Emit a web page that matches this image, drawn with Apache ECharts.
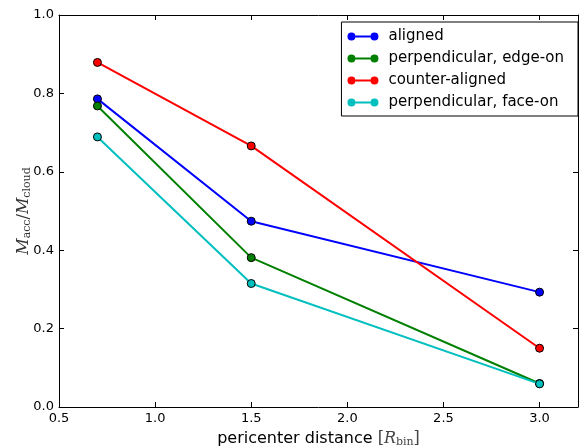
<!DOCTYPE html>
<html>
<head>
<meta charset="utf-8">
<script src="https://cdn.jsdelivr.net/npm/echarts@6/dist/echarts.min.js"></script>
<style>
  html, body { margin: 0; padding: 0; background: #fff; }
  #main { width: 584px; height: 448px; }
</style>
</head>
<body>
<div id="main"></div>
<script>
// pericenter distances (R_bin)
const distances = [0.7, 1.5, 3.0];
const seriesNames = ['aligned', 'perpendicular, edge-on', 'counter-aligned', 'perpendicular, face-on'];
const aligned = [0.786, 0.474, 0.293];
const edgeOn = [0.768, 0.381, 0.060];
const counterAligned = [0.879, 0.666, 0.150];
const faceOn = [0.689, 0.315, 0.059];
const seriesColors = ['#0000ff', '#008000', '#ff0000', '#00bfbf'];
const xTicks = ['0.5', '1.0', '1.5', '2.0', '2.5', '3.0'];
const yTicks = ['0.0', '0.2', '0.4', '0.6', '0.8', '1.0'];

const allValues = [aligned, edgeOn, counterAligned, faceOn];
const font = 'DejaVu Sans';

let myChart = echarts.init(document.getElementById('main'));

const tickStyle = { show: true, inside: true, length: 5, lineStyle: { color: '#000', width: 1 } };
const axisLineStyle = { show: true, onZero: false, lineStyle: { color: '#000', width: 1 } };

// legend icon: two circles joined by a line (pieces do not overlap)
const legendIcon = 'path://M0,4 A4,4 0 1,1 8,4 A4,4 0 1,1 0,4 Z M23,4 A4,4 0 1,1 31,4 A4,4 0 1,1 23,4 Z M8,3 L23,3 L23,5 L8,5 Z';

var option = {
    backgroundColor: '#fff',
    animation: false,
    textStyle: { fontFamily: font, color: '#000' },
    grid: { left: 59, right: 6, top: 15, bottom: 41, outerBoundsMode: 'none' },
    legend: {
        data: seriesNames,
        orient: 'vertical',
        right: 6,
        top: 22,
        padding: [7, 14, 6, 6],
        itemGap: 7,
        itemWidth: 31,
        itemHeight: 8,
        icon: legendIcon,
        itemStyle: { borderWidth: 0 },
        backgroundColor: '#fff',
        borderColor: '#000',
        borderWidth: 1,
        borderRadius: 0,
        textStyle: { fontFamily: font, fontSize: 15, color: '#000', padding: [0, 0, 0, 5] }
    },
    xAxis: [{
        type: 'value',
        min: 0.5,
        max: 3.2,
        interval: 0.5,
        position: 'bottom',
        name: '{t|pericenter distance }{b|[}{i|R}{s|bin}{b|]}',
        nameLocation: 'middle',
        nameGap: 22,
        nameMoveOverlap: false,
        nameTextStyle: {
            rich: {
                t: { fontFamily: font, fontSize: 16, color: '#000' },
                b: { fontFamily: 'DejaVu Serif', fontSize: 16, color: '#444' },
                i: { fontFamily: 'DejaVu Serif', fontStyle: 'italic', fontSize: 16, color: '#444' },
                s: { fontFamily: 'DejaVu Serif', fontSize: 11, color: '#444', padding: [8, 0, 0, 0] }
            }
        },
        axisLine: axisLineStyle,
        axisTick: tickStyle,
        splitLine: { show: false },
        axisLabel: {
            fontSize: 13, color: '#000', margin: 5, showMaxLabel: false,
            formatter: function (v) {
                const s = v.toFixed(1);
                return xTicks.indexOf(s) >= 0 && Math.abs(v * 2 - Math.round(v * 2)) < 1e-6 ? s : '';
            }
        }
    }, {
        type: 'value', min: 0.5, max: 3.2, interval: 0.5, position: 'top',
        axisLine: axisLineStyle, axisTick: tickStyle, axisLabel: { show: false }, splitLine: { show: false }
    }],
    yAxis: [{
        type: 'value',
        min: 0,
        max: 1,
        interval: 0.2,
        position: 'left',
        name: '{i|M}{s|acc}{r|/}{i|M}{s|cloud}',
        nameLocation: 'middle',
        nameRotate: 90,
        nameGap: 26,
        nameMoveOverlap: false,
        nameTextStyle: {
            rich: {
                i: { fontFamily: 'DejaVu Serif', fontStyle: 'italic', fontSize: 16, color: '#333' },
                r: { fontFamily: 'DejaVu Serif', fontSize: 16, color: '#333' },
                s: { fontFamily: 'DejaVu Serif', fontSize: 11, color: '#333', padding: [8, 0, 0, 0] }
            }
        },
        axisLine: axisLineStyle,
        axisTick: tickStyle,
        splitLine: { show: false },
        axisLabel: {
            fontSize: 13, color: '#000', margin: 5,
            formatter: function (v) {
                const s = v.toFixed(1);
                return yTicks.indexOf(s) >= 0 ? s : '';
            }
        }
    }, {
        type: 'value', min: 0, max: 1, interval: 0.2, position: 'right',
        axisLine: axisLineStyle, axisTick: tickStyle, axisLabel: { show: false }, splitLine: { show: false }
    }],
    series: seriesNames.map(function (name, k) {
        return {
            name: name,
            type: 'line',
            data: distances.map(function (d, i) { return [d, allValues[k][i]]; }),
            color: seriesColors[k],
            lineStyle: { width: 2, color: seriesColors[k] },
            symbol: 'circle',
            symbolSize: 8,
            itemStyle: { color: seriesColors[k], borderColor: '#000', borderWidth: 1 },
            z: 2 + k
        };
    })
};

myChart.setOption(option);
</script>
</body>
</html>
